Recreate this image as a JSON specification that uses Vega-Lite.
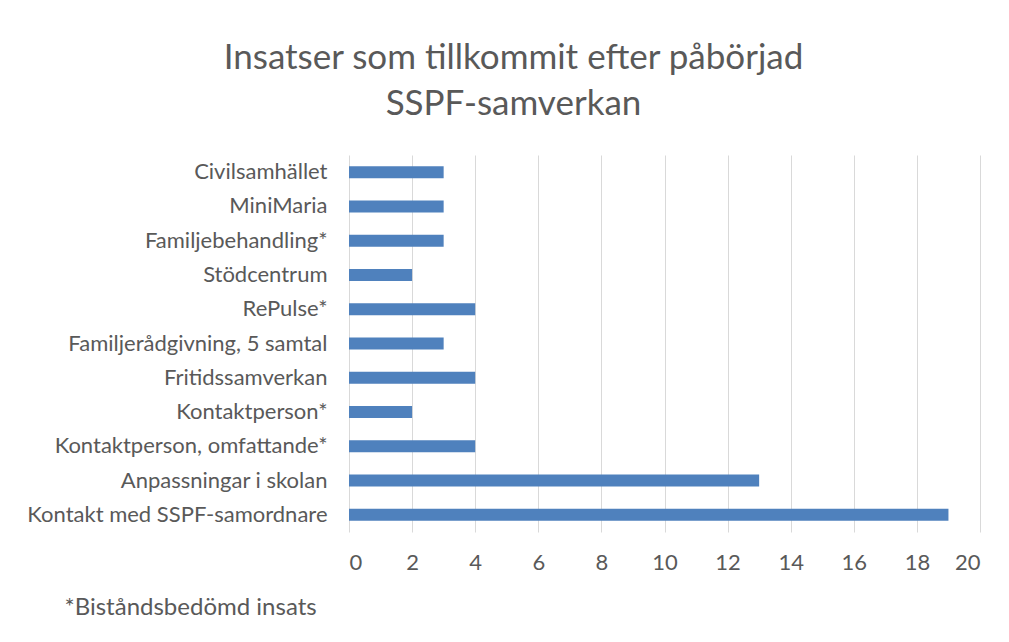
{
  "$schema": "https://vega.github.io/schema/vega-lite/v6.json",
  "width": 631,
  "height": 377,
  "autosize": {"type": "none"},
  "padding": {"left": 349, "top": 155, "right": 29, "bottom": 110},
  "background": "white",
  "title": {
    "text": ["Insatser som tillkommit efter påbörjad", "SSPF-samverkan"],
    "anchor": "middle",
    "frame": "group",
    "dx": -151,
    "offset": 33,
    "font": "Lato",
    "fontSize": 35,
    "fontWeight": "normal",
    "color": "#595959",
    "lineHeight": 46
  },
  "data": {
    "values": [
      {"insats": "Civilsamhället", "antal": 3},
      {"insats": "MiniMaria", "antal": 3},
      {"insats": "Familjebehandling*", "antal": 3},
      {"insats": "Stödcentrum", "antal": 2},
      {"insats": "RePulse*", "antal": 4},
      {"insats": "Familjerådgivning, 5 samtal", "antal": 3},
      {"insats": "Fritidssamverkan", "antal": 4},
      {"insats": "Kontaktperson*", "antal": 2},
      {"insats": "Kontaktperson, omfattande*", "antal": 4},
      {"insats": "Anpassningar i skolan", "antal": 13},
      {"insats": "Kontakt med SSPF-samordnare", "antal": 19}
    ]
  },
  "mark": {"type": "bar", "color": "#4F81BD"},
  "encoding": {
    "y": {
      "field": "insats",
      "type": "nominal",
      "sort": null,
      "scale": {"paddingInner": 0.65, "paddingOuter": 0.325},
      "axis": {
        "title": null,
        "domain": false,
        "ticks": false,
        "grid": false,
        "labelPadding": 22,
        "labelFont": "Lato",
        "labelFontSize": 22,
        "labelColor": "#595959",
        "labelLimit": 400
      }
    },
    "x": {
      "field": "antal",
      "type": "quantitative",
      "scale": {"domain": [0, 20], "nice": false},
      "axis": {
        "values": [0, 2, 4, 6, 8, 10, 12, 14, 16, 18, 20],
        "title": "*Biståndsbedömd insats",
        "titleFont": "Lato",
        "titleFontSize": 24,
        "titleFontWeight": "normal",
        "titleColor": "#595959",
        "titleAnchor": "start",
        "titleAlign": "left",
        "titleBaseline": "alphabetic",
        "titleX": -285,
        "titleY": 82,
        "domain": false,
        "ticks": false,
        "grid": true,
        "gridColor": "#d9d9d9",
        "gridWidth": 1,
        "labelPadding": 20,
        "labelFont": "Lato",
        "labelFontSize": 22,
        "labelColor": "#595959"
      }
    }
  },
  "config": {"view": {"stroke": null}}
}
